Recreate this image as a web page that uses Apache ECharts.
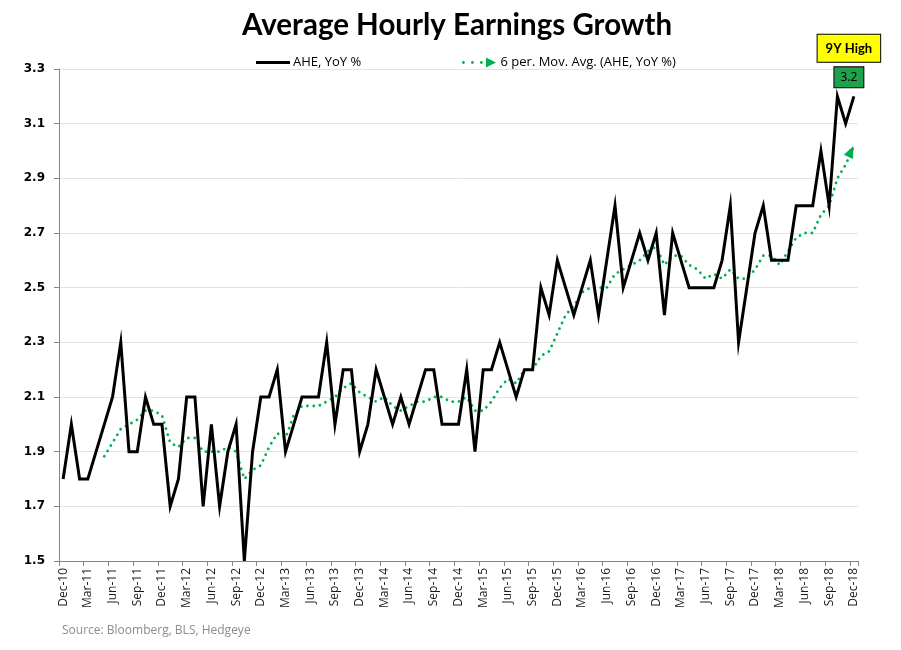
<!DOCTYPE html>
<html>
<head>
<meta charset="utf-8">
<script src="https://cdn.jsdelivr.net/npm/echarts@6/dist/echarts.min.js"></script>
<style>
html,body{margin:0;padding:0;background:#fff;}
#chart{width:901px;height:650px;}
</style>
</head>
<body>
<div id="chart"></div>
<script>
const categories = [
 'Dec-10',
 'Jan-11','Feb-11','Mar-11','Apr-11','May-11','Jun-11','Jul-11','Aug-11','Sep-11','Oct-11','Nov-11','Dec-11',
 'Jan-12','Feb-12','Mar-12','Apr-12','May-12','Jun-12','Jul-12','Aug-12','Sep-12','Oct-12','Nov-12','Dec-12',
 'Jan-13','Feb-13','Mar-13','Apr-13','May-13','Jun-13','Jul-13','Aug-13','Sep-13','Oct-13','Nov-13','Dec-13',
 'Jan-14','Feb-14','Mar-14','Apr-14','May-14','Jun-14','Jul-14','Aug-14','Sep-14','Oct-14','Nov-14','Dec-14',
 'Jan-15','Feb-15','Mar-15','Apr-15','May-15','Jun-15','Jul-15','Aug-15','Sep-15','Oct-15','Nov-15','Dec-15',
 'Jan-16','Feb-16','Mar-16','Apr-16','May-16','Jun-16','Jul-16','Aug-16','Sep-16','Oct-16','Nov-16','Dec-16',
 'Jan-17','Feb-17','Mar-17','Apr-17','May-17','Jun-17','Jul-17','Aug-17','Sep-17','Oct-17','Nov-17','Dec-17',
 'Jan-18','Feb-18','Mar-18','Apr-18','May-18','Jun-18','Jul-18','Aug-18','Sep-18','Oct-18','Nov-18','Dec-18'
];

const aheYoY = [
 1.8,
 2.0,1.8,1.8,1.9,2.0,2.1,2.3,1.9,1.9,2.1,2.0,2.0,
 1.7,1.8,2.1,2.1,1.7,2.0,1.7,1.9,2.0,1.5,1.9,2.1,
 2.1,2.2,1.9,2.0,2.1,2.1,2.1,2.3,2.0,2.2,2.2,1.9,
 2.0,2.2,2.1,2.0,2.1,2.0,2.1,2.2,2.2,2.0,2.0,2.0,
 2.2,1.9,2.2,2.2,2.3,2.2,2.1,2.2,2.2,2.5,2.4,2.6,
 2.5,2.4,2.5,2.6,2.4,2.6,2.8,2.5,2.6,2.7,2.6,2.7,
 2.4,2.7,2.6,2.5,2.5,2.5,2.5,2.6,2.8,2.3,2.5,2.7,
 2.8,2.6,2.6,2.6,2.8,2.8,2.8,3.0,2.8,3.2,3.1,3.2
];

const movAvg6 = [
 null,
 null,null,null,null,1.883,1.933,1.983,2.0,2.017,2.05,2.05,2.033,
 1.933,1.917,1.95,1.95,1.9,1.9,1.9,1.917,1.9,1.8,1.833,1.85,
 1.917,1.967,1.95,2.033,2.067,2.067,2.067,2.083,2.1,2.133,2.15,2.117,
 2.1,2.083,2.1,2.067,2.05,2.067,2.083,2.083,2.1,2.1,2.083,2.083,
 2.1,2.05,2.05,2.083,2.133,2.167,2.15,2.2,2.2,2.25,2.267,2.333,
 2.4,2.433,2.483,2.5,2.5,2.5,2.55,2.567,2.583,2.6,2.633,2.65,
 2.583,2.617,2.617,2.583,2.567,2.533,2.55,2.533,2.567,2.533,2.533,2.567,
 2.617,2.617,2.583,2.633,2.683,2.7,2.7,2.767,2.8,2.9,2.95,3.017
];

const yTicks = [1.5,1.7,1.9,2.1,2.3,2.5,2.7,2.9,3.1,3.3];

const titleText = 'Average Hourly Earnings Growth';
const sourceText = 'Source: Bloomberg, BLS, Hedgeye';
const seriesNames = ['AHE, YoY %', '6 per. Mov. Avg. (AHE, YoY %)'];
const highLabel = '9Y High';

const lastIdx = aheYoY.length - 1;

const maLast = movAvg6.length - 1;
const maData = movAvg6.map((v, i) => i === maLast ? {
  value: v,
  symbol: 'triangle',
  symbolSize: [10, 12],
  symbolRotate: -25,
  symbolOffset: [-3, 5],
  itemStyle: { color: '#00b050' }
} : v);

const chart = echarts.init(document.getElementById('chart'), null, { renderer: 'canvas' });
chart.setOption({
  animation: false,
  backgroundColor: '#fff',
  title: [
    {
      text: titleText,
      left: 242,
      top: 10,
      padding: 0,
      textStyle: { fontFamily: 'Lato', fontWeight: 'bold', fontSize: 29.5, color: '#000' }
    },
    {
      text: sourceText,
      left: 62,
      top: 625,
      padding: 0,
      textStyle: { fontFamily: 'Open Sans', fontWeight: 'normal', fontSize: 12, color: '#8c8c8c' }
    }
  ],
  legend: [
    {
      data: [{ name: seriesNames[0], icon: 'path://M0,0h34v3h-34z' }],
      left: 256,
      top: 56,
      padding: 0,
      itemWidth: 34,
      itemHeight: 3,
      itemGap: 4,
      selectedMode: false,
      textStyle: { fontFamily: 'Open Sans', fontSize: 13, color: '#000', padding: [0, 0, 0, -2] }
    },
    {
      data: [{ name: seriesNames[1], icon: 'path://M1,4a1.4,1.4 0 1,0 2.8,0a1.4,1.4 0 1,0 -2.8,0zM10,4a1.4,1.4 0 1,0 2.8,0a1.4,1.4 0 1,0 -2.8,0zM19,4a1.4,1.4 0 1,0 2.8,0a1.4,1.4 0 1,0 -2.8,0zM25,-1L35,4L25,9z' }],
      left: 462,
      top: 56,
      padding: 0,
      itemWidth: 35,
      itemHeight: 10,
      itemGap: 4,
      selectedMode: false,
      textStyle: { fontFamily: 'Open Sans', fontSize: 13, color: '#000', padding: [0, 0, 0, -1] }
    }
  ],
  grid: { left: 59, right: 43, top: 69, bottom: 89, containLabel: false },
  xAxis: {
    type: 'category',
    data: categories,
    boundaryGap: true,
    axisLine: { show: true, lineStyle: { color: '#868686', width: 1 } },
    axisTick: { show: true, interval: 2, length: 5, lineStyle: { color: '#868686' } },
    axisLabel: {
      interval: 2,
      rotate: 90,
      margin: 7,
      fontFamily: 'Open Sans',
      fontSize: 12,
      color: '#1a1a1a'
    },
    splitLine: { show: false }
  },
  yAxis: {
    type: 'value',
    min: yTicks[0],
    max: yTicks[yTicks.length - 1],
    interval: 0.2,
    axisLine: { show: true, lineStyle: { color: '#868686', width: 1 } },
    axisTick: { show: true, length: 5, lineStyle: { color: '#868686' } },
    axisLabel: {
      margin: 14,
      fontFamily: 'DejaVu Sans',
      fontWeight: 'bold',
      fontSize: 12,
      color: '#000',
      formatter: (v) => v.toFixed(1)
    },
    splitLine: { show: true, lineStyle: { color: '#e3e3e3', width: 1 } }
  },
  series: [
    {
      name: seriesNames[0],
      type: 'line',
      data: aheYoY,
      symbol: 'none',
      color: '#000',
      lineStyle: { color: '#000', width: 3, join: 'miter' },
      z: 3,
      markPoint: {
        symbol: 'rect',
        symbolSize: 1,
        itemStyle: { color: 'rgba(0,0,0,0)' },
        data: [
          {
            coord: [lastIdx, aheYoY[lastIdx]],
            label: {
              show: true,
              formatter: highLabel,
              offset: [-5, -48],
              backgroundColor: '#ffff00',
              borderColor: '#000',
              borderWidth: 1,
              padding: [6, 8, 5, 8],
              color: '#000',
              fontFamily: 'Lato',
              fontWeight: 'bold',
              fontSize: 13,
              lineHeight: 16
            }
          },
          {
            coord: [lastIdx, aheYoY[lastIdx]],
            value: aheYoY[lastIdx],
            label: {
              show: true,
              formatter: (p) => Number(p.value).toFixed(1),
              offset: [-5, -19],
              backgroundColor: '#1ea24e',
              borderColor: '#000',
              borderWidth: 1,
              padding: [3, 6, 2, 6],
              color: '#000',
              fontFamily: 'Noto Sans',
              fontSize: 12,
              lineHeight: 15
            }
          }
        ]
      }
    },
    {
      name: seriesNames[1],
      type: 'line',
      data: maData,
      symbol: 'none',
      showAllSymbol: true,
      color: '#00b050',
      lineStyle: { color: '#00b050', width: 2.8, type: [0.01, 6.3], cap: 'round' },
      z: 2
    }
  ]
});
</script>
</body>
</html>
